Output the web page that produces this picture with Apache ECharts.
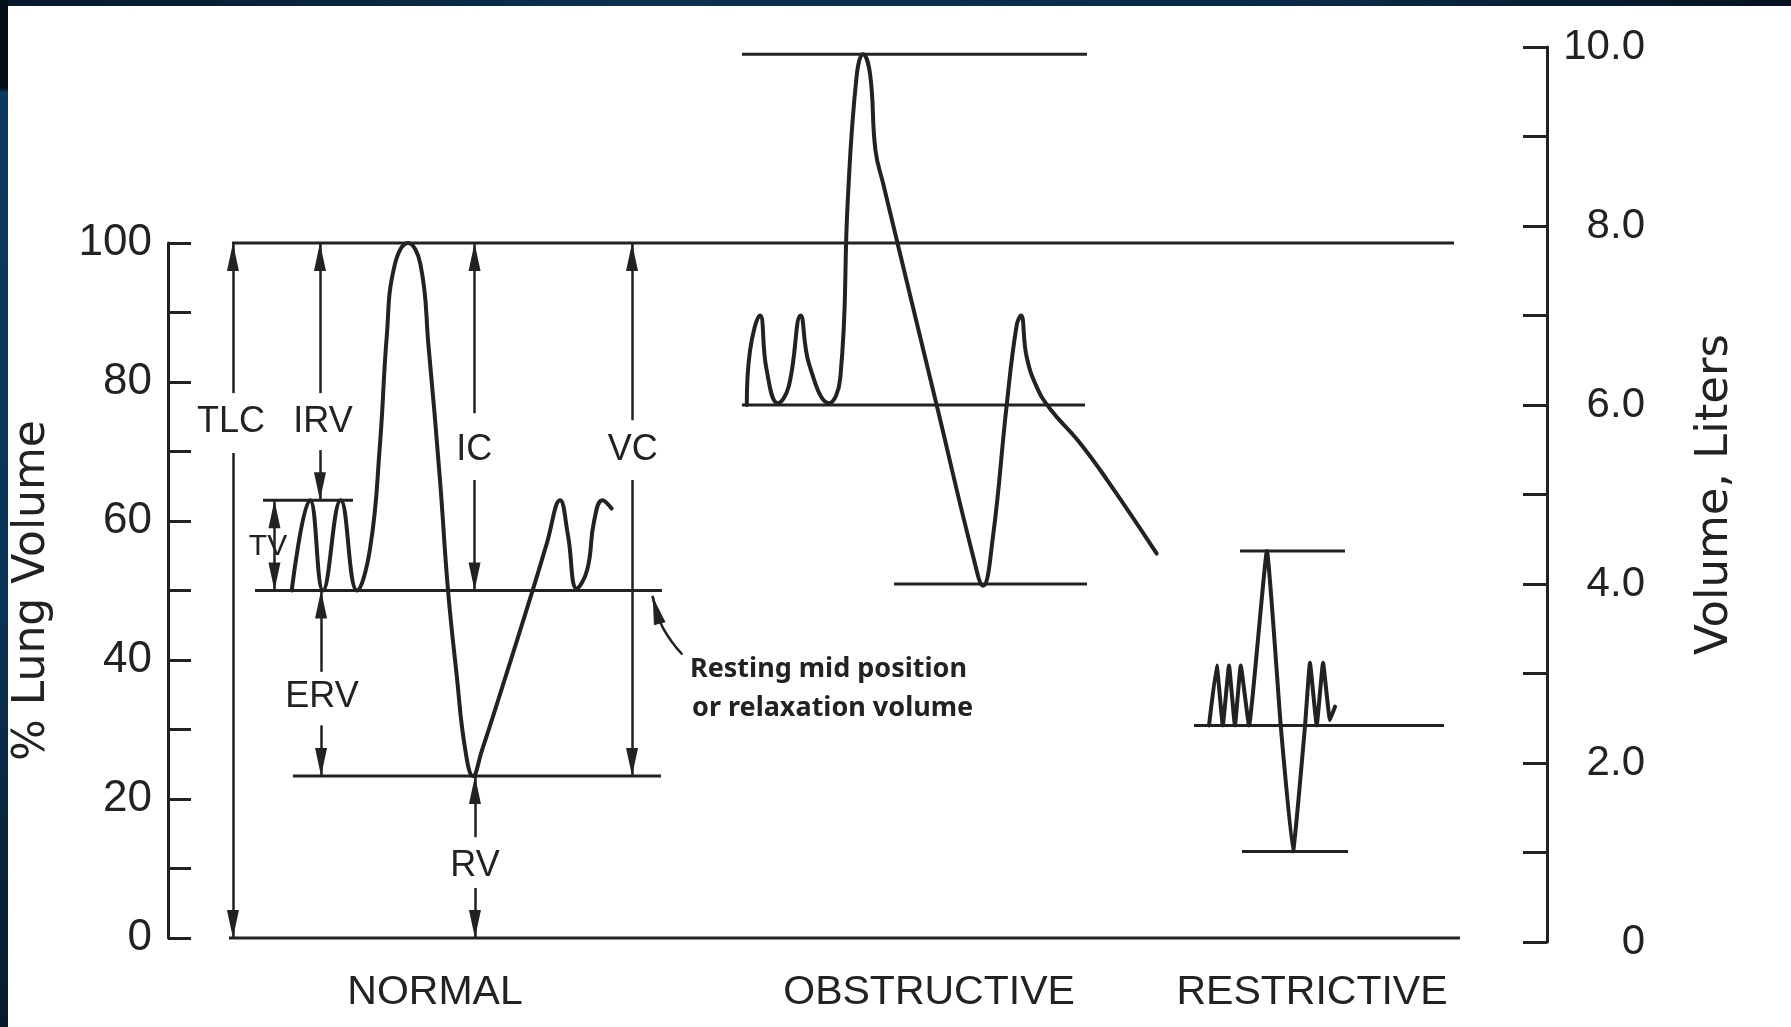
<!DOCTYPE html>
<html>
<head>
<meta charset="utf-8">
<title>Lung volumes</title>
<script src="https://cdn.jsdelivr.net/npm/echarts@6/dist/echarts.min.js"></script>
<style>
  html, body { margin: 0; padding: 0; background: #ffffff; overflow: hidden; }
  #chart { position: absolute; left: 0; top: 0; width: 1791px; height: 1027px; }
  .edge-top { position: absolute; left: 0; top: 0; width: 1791px; height: 6px;
    background: linear-gradient(90deg, #07182a 0%, #0b3150 35%, #0a2a46 75%, #06121f 100%); }
  .edge-left { position: absolute; left: 0; top: 0; width: 8px; height: 1027px;
    background: linear-gradient(180deg, #050f18 0px, #050f18 88px, #0b3a60 92px, #0a3254 60%, #061a2c 100%); }
</style>
</head>
<body>
<div id="chart"></div>
<div class="edge-top"></div>
<div class="edge-left"></div>
<script>
// Time runs along a hidden axis from 0 to 100 (arbitrary units).
// Normal trace in % of total lung capacity.
const normalTrace = [
  [8.97, 50], [10.30, 63], [11.24, 50], [12.52, 63], [13.71, 50], [14.65, 56],
  [15.37, 71], [15.86, 86.5], [16.40, 96.5], [17.40, 100], [18.30, 97], [18.90, 85],
  [19.72, 66], [20.30, 50.2], [20.94, 37.7], [21.54, 27.3], [22.12, 23.3], [22.75, 26.9],
  [24.08, 35.1], [26.47, 50.2], [27.46, 56.7], [28.43, 63], [29.00, 58], [29.64, 50.3],
  [30.40, 53], [30.90, 60], [31.50, 63], [32.17, 61.8]
];

// Obstructive and restrictive traces in liters.
const obstructiveTrace = [
  [41.97, 6.0], [42.20, 6.6], [42.93, 7.0], [43.40, 6.4], [44.22, 6.02], [45.00, 6.2],
  [45.88, 7.0], [46.50, 6.45], [47.93, 6.02], [48.75, 6.3], [49.30, 8.3], [49.94, 9.68],
  [50.40, 9.92], [50.91, 9.7], [51.30, 8.85], [51.85, 8.48], [55.74, 6.0], [58.40, 4.3],
  [59.10, 3.98], [59.80, 4.5], [60.82, 6.0], [61.54, 6.89], [61.86, 7.0], [62.25, 6.55],
  [63.00, 6.2], [64.00, 5.95], [66.00, 5.6], [68.07, 5.17], [71.70, 4.34]
];
const restrictiveTrace = [
  [75.49, 2.42], [76.05, 3.09], [76.49, 2.42], [76.94, 3.09], [77.37, 2.42], [77.79, 3.09],
  [78.39, 2.42], [79.69, 4.37], [80.69, 2.42], [81.58, 1.01], [82.45, 2.41], [82.81, 3.12],
  [83.30, 2.42], [83.76, 3.12], [84.26, 2.48], [84.63, 2.63]
];

// Reference levels: [level, start time, end time]
const normalLevels = [[100, 4.64, 93.26], [0, 4.42, 93.69], [50, 6.31, 35.82], [23.3, 9.06, 35.75], [63, 6.89, 13.42]];
const obstructiveLevels = [[9.92, 41.62, 66.64], [6.0, 41.62, 66.5], [4.0, 52.65, 66.64]];
const restrictiveLevels = [[4.37, 77.74, 85.35], [2.42, 74.40, 92.53], [1.01, 77.88, 85.57]];

// Dimension arrows (% scale): [time, from, to, head at from, head at to]
const dimensionArrows = [
  [4.71, 78.4, 100, 0, 1], [4.71, 69.8, 0, 0, 1],
  [11.02, 78.4, 100, 0, 1], [11.02, 70.2, 63, 0, 1],
  [22.23, 75.5, 100, 0, 1], [22.23, 65.9, 50, 0, 1],
  [33.65, 74.5, 100, 0, 1], [33.65, 65.9, 23.3, 0, 1],
  [7.72, 50, 63, 1, 1],
  [11.10, 38.3, 50, 0, 1], [11.10, 30.6, 23.3, 0, 1],
  [22.26, 14.5, 23.3, 0, 1], [22.26, 7.2, 0, 0, 1]
];
const dimensionNames = [['TLC', 4.57, 74.2], ['IRV', 11.24, 74.2], ['IC', 22.2, 70.2], ['VC', 33.7, 70.2], ['ERV', 11.17, 34.7], ['RV', 22.26, 10.3]];
const tidalName = [['TV', 7.25, 56.3]];
const patternNames = [['NORMAL', 19.36, -7.9], ['OBSTRUCTIVE', 55.19, -7.9], ['RESTRICTIVE', 82.96, -7.9]];
const noteLines = [['Resting mid position', 37.85, 38.6], ['or relaxation volume', 38.0, 33.1]];
// Curved pointer from the note up to the resting level (tail ... tip)
const notePointer = [[37.25, 40.9], [35.90, 44.6], [35.32, 47.8], [35.15, 49.1]];

const pctTicks = { min: 0, max: 100, step: 10, labelStep: 20 };
const literTicks = { min: 0, max: 10, step: 1, labelStep: 2 };

const ink = '#222222';
const chart = echarts.init(document.getElementById('chart'), null, { renderer: 'canvas' });

const head = { symbol: 'triangle', symbolSize: [12, 28], symbolOffset: [0, '50%'] };
const noHead = { symbol: 'none' };

function levelSeries(levels, axis) {
  return levels.map(([y, x0, x1]) => ({
    type: 'line', xAxisIndex: axis, yAxisIndex: axis, data: [[x0, y], [x1, y]],
    symbol: 'none', silent: true, clip: false, animation: false,
    lineStyle: { color: ink, width: 3 }, z: 2
  }));
}
function traceSeries(name, data, axis, smooth, width) {
  return {
    type: 'line', name, xAxisIndex: axis, yAxisIndex: axis, data,
    symbol: 'none', smooth, silent: true, clip: false, animation: false,
    lineStyle: { color: ink, width: width || 4, join: 'round', cap: 'round' }, z: 3
  };
}
function textSeries(items, style, pos) {
  return {
    type: 'scatter', xAxisIndex: 0, yAxisIndex: 0, clip: false, silent: true, animation: false,
    symbolSize: 0, itemStyle: { color: ink, opacity: 1 }, z: 5,
    data: items.map(([name, x, y]) => ({ name, value: [x, y] })),
    label: Object.assign({
      show: true, position: pos || 'inside', distance: 0, formatter: '{b}',
      color: ink, opacity: 1, textBorderWidth: 0
    }, style)
  };
}
function arrowSeries(data) {
  return {
    type: 'line', xAxisIndex: 0, yAxisIndex: 0, data: [], silent: true, animation: false,
    markLine: {
      silent: true, animation: false, precision: 4,
      label: { show: false }, emphasis: { disabled: true },
      lineStyle: { color: ink, width: 2.5, type: 'solid' },
      data
    }
  };
}

const arrowData = dimensionArrows.map(([x, a, b, ha, hb]) => [
  Object.assign({ coord: [x, a] }, ha ? head : noHead),
  Object.assign({ coord: [x, b] }, hb ? head : noHead)
]);
// Arrowhead of the pointer follows its final stretch
const n = notePointer.length;
arrowData.push([
  Object.assign({ coord: notePointer[n - 2] }, noHead),
  Object.assign({ coord: notePointer[n - 1] }, head)
]);

function tickFormatter(t, fmt) {
  return v => (Math.round(v) % t.labelStep === 0 ? fmt(v) : '');
}

chart.setOption({
  backgroundColor: '#ffffff',
  animation: false,
  grid: [
    { left: 168, top: 243, width: 1379, height: 695 },
    { left: 168, top: 47, width: 1379, height: 895 }
  ],
  xAxis: [
    { gridIndex: 0, type: 'value', min: 0, max: 100, show: false },
    { gridIndex: 1, type: 'value', min: 0, max: 100, show: false }
  ],
  yAxis: [
    {
      gridIndex: 0, type: 'value', position: 'left',
      min: pctTicks.min, max: pctTicks.max, interval: pctTicks.step,
      name: '% Lung Volume', nameLocation: 'middle', nameRotate: 90, nameGap: 113,
      nameTextStyle: { fontFamily: 'DejaVu Sans', fontSize: 44, color: ink },
      axisLine: { show: true, onZero: false, lineStyle: { color: ink, width: 3 } },
      axisTick: { show: true, inside: true, length: 23, lineStyle: { color: ink, width: 3 } },
      axisLabel: { margin: 16, fontFamily: 'Liberation Sans', fontSize: 44, color: ink,
        formatter: tickFormatter(pctTicks, v => String(Math.round(v))) },
      splitLine: { show: false }
    },
    {
      gridIndex: 1, type: 'value', position: 'right',
      min: literTicks.min, max: literTicks.max, interval: literTicks.step,
      name: 'Volume, Liters', nameLocation: 'middle', nameRotate: 90, nameGap: 146,
      nameTextStyle: { fontFamily: 'DejaVu Sans', fontSize: 45, color: ink },
      axisLine: { show: true, onZero: false, lineStyle: { color: ink, width: 3 } },
      axisTick: { show: true, inside: true, length: 24, lineStyle: { color: ink, width: 3 } },
      axisLabel: { margin: 98, align: 'right', fontFamily: 'Liberation Sans', fontSize: 42, color: ink,
        formatter: tickFormatter(literTicks, v => (Math.round(v) === 0 ? '0' : v.toFixed(1))) },
      splitLine: { show: false }
    }
  ],
  series: [
    ...levelSeries(normalLevels, 0),
    ...levelSeries(obstructiveLevels, 1),
    ...levelSeries(restrictiveLevels, 1),
    traceSeries('Normal', normalTrace, 0, 0.45),
    traceSeries('Obstructive', obstructiveTrace, 1, 0.45),
    traceSeries('Restrictive', restrictiveTrace, 1, 0.1),
    traceSeries('Pointer', notePointer, 0, 0.5, 2.5),
    arrowSeries(arrowData),
    textSeries(dimensionNames, { fontFamily: 'Liberation Sans', fontSize: 36 }),
    textSeries(tidalName, { fontFamily: 'Liberation Sans', fontSize: 30 }),
    textSeries(patternNames, { fontFamily: 'Liberation Sans', fontSize: 41 }),
    textSeries(noteLines, { fontFamily: 'Noto Sans', fontWeight: 'bold', fontSize: 27 }, 'right')
  ]
});
</script>
</body>
</html>
